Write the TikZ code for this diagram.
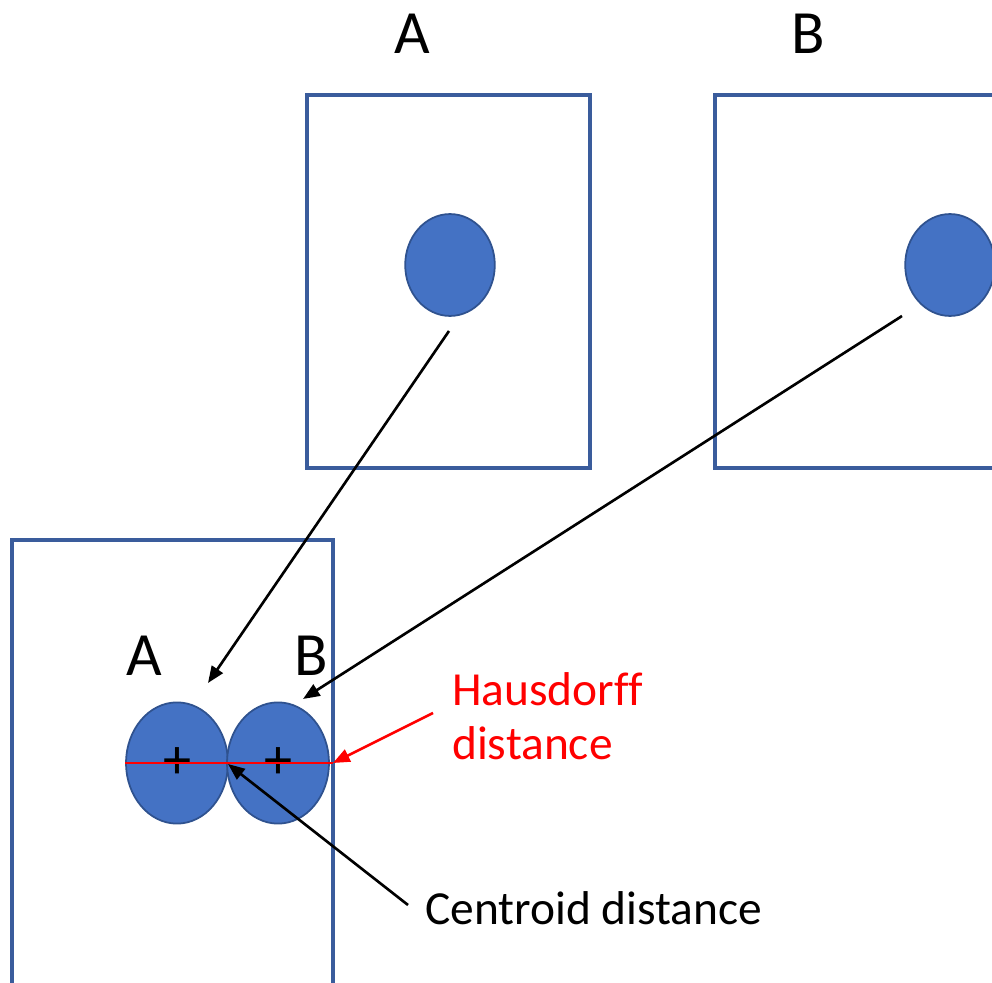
\documentclass[tikz,border=0pt]{standalone}
\usepackage{fontspec}
\setmainfont{Carlito}
\usepackage{xcolor}
\usetikzlibrary{arrows.meta,positioning,shapes.geometric}
\definecolor{blobfill}{HTML}{4472C4}
\definecolor{blobline}{HTML}{2F528F}
\definecolor{frameline}{HTML}{3A5C9C}
\begin{document}
\begin{tikzpicture}[x=0.02cm, y=-0.02cm, >=Triangle,
  frame/.style={draw=frameline, line width=1.8pt},
  blob/.style={draw=blobline, fill=blobfill, ellipse, line width=1pt, inner sep=0pt},
  big/.style={font=\fontsize{35}{42}\selectfont},
  txt/.style={font=\fontsize{27}{31}\selectfont\addfontfeature{Ligatures=NoCommon}, anchor=west, align=left},
  link/.style={->, line width=1.5pt, >={Triangle[length=9.5pt,width=7.5pt]}}]
  \useasboundingbox (0,0) rectangle (992,983);
  \clip (0,0) rectangle (992,983);
  % the two images
  \draw[frame] (307,95) rectangle (590,468);
  \draw[frame] (715,95) rectangle (1010,468);
  \node[big] (labA) at (412,34) {A};
  \node[big] (labB) at (808,34) {B};
  \node[blob, minimum width=51pt, minimum height=58pt] (blobA) at (450,265) {};
  \node[blob, minimum width=51pt, minimum height=58pt] (blobB) at (950,265) {};
  \coordinate (tailA) at (449,331);
  \coordinate (tailB) at (902,316);
  % overlay
  \draw[frame] (12,540) rectangle (333,1010);
  \node[blob, minimum width=58pt, minimum height=69pt, font=\fontsize{32}{32}\selectfont] (twoA) at (177,763) {+};
  \node[blob, minimum width=58pt, minimum height=69pt, font=\fontsize{32}{32}\selectfont] (twoB) at (278,763) {+};
  \node[big] (labA2) at (144,656) {A};
  \node[big] (labB2) at (311,656) {B};
  \coordinate (tipA) at (208,683);
  \coordinate (tipB) at (303,699);
  \coordinate (hd) at (333,763);
  \coordinate (cd) at (228,764);
  \draw[red, line width=1pt] (twoA.west) -- (hd);
  \node[txt, text=red] (haus) at (446,716) {Hausdorff\\distance};
  \node[txt] (cent) at (419,908) {Centroid distance};
  \draw[link] (tailA) -- (tipA);
  \draw[link] (tailB) -- (tipB);
  \draw[link, red] (433,713) -- (hd);
  \draw[link] (408,905) -- (cd);
\end{tikzpicture}
\end{document}
